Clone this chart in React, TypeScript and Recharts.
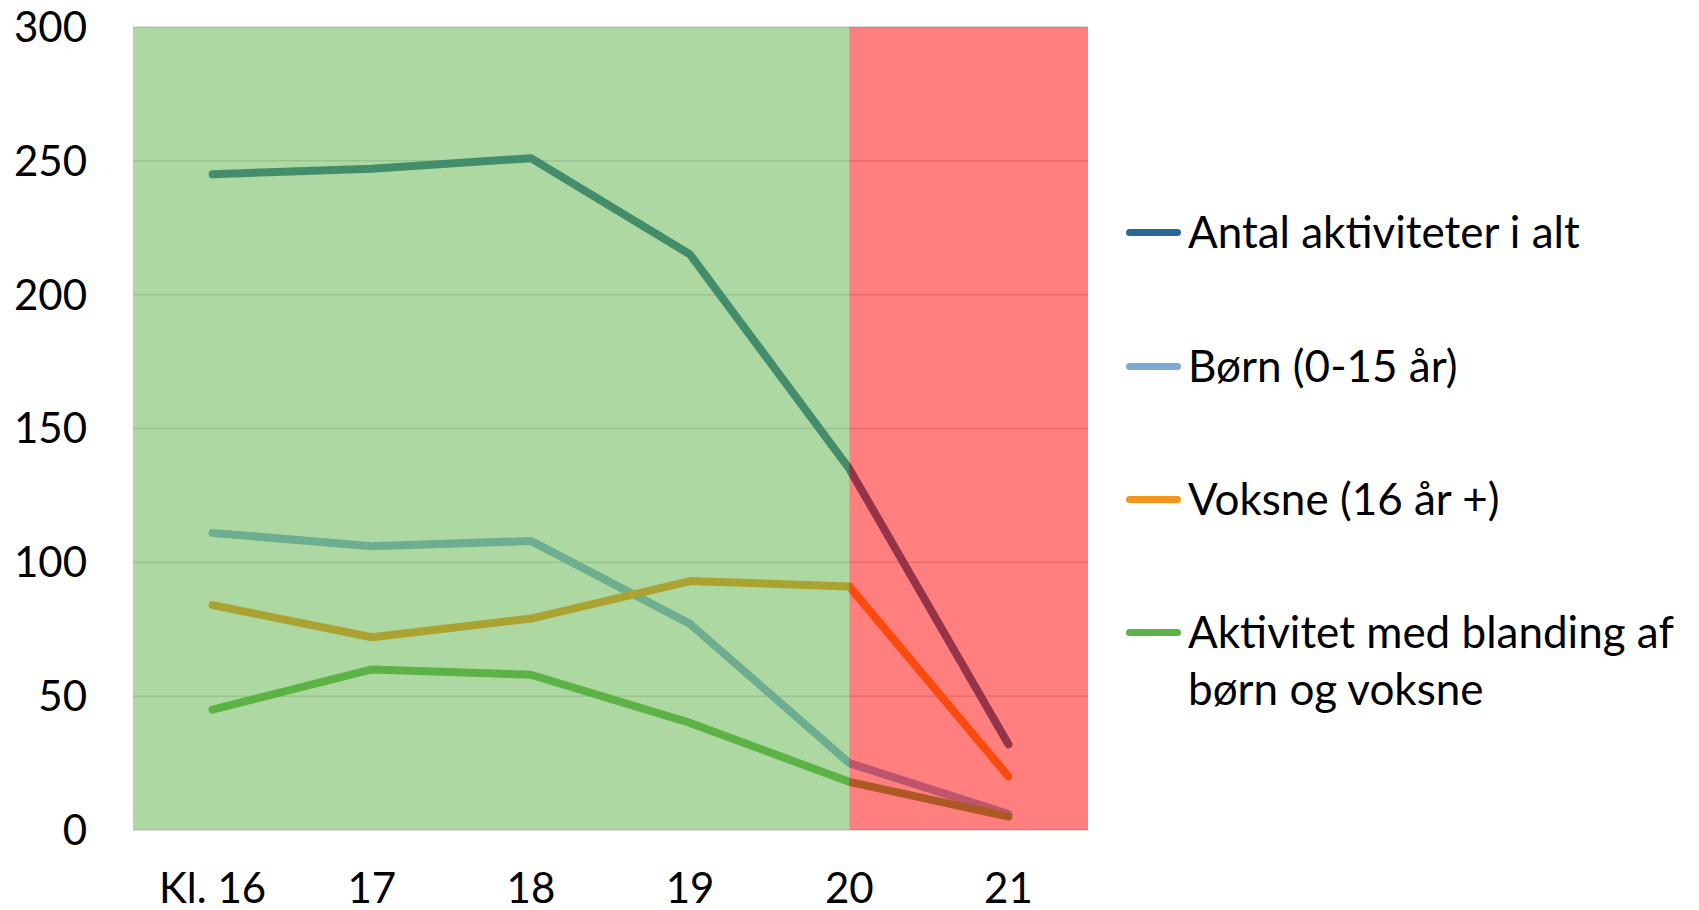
import React from 'react';
import { LineChart, Line, XAxis, YAxis, CartesianGrid, ReferenceArea } from 'recharts';

const categories = ['Kl. 16', '17', '18', '19', '20', '21'];
const total = [245, 247, 251, 215, 135, 32];
const children = [111, 106, 108, 77, 25, 6];
const adults = [84, 72, 79, 93, 91, 20];
const mixed = [45, 60, 58, 40, 18, 5];
const yTicks = [0, 50, 100, 150, 200, 250, 300];

const series = [
  { key: 'total', name: 'Antal aktiviteter i alt', color: '#2A6893' },
  { key: 'children', name: 'Børn (0-15 år)', color: '#7BAAD9' },
  { key: 'adults', name: 'Voksne (16 år +)', color: '#F7941D' },
  { key: 'mixed', name: 'Aktivitet med blanding af børn og voksne', color: '#5DB247' },
];

const data = categories.map((c, i) => ({
  x: i,
  label: c,
  total: total[i],
  children: children[i],
  adults: adults[i],
  mixed: mixed[i],
}));

const font = 'Lato, "Open Sans", sans-serif';
const legendTops = [203, 337, 470, 603];
const W = 1699;
const H = 910;
const margin = { top: 27, right: 611, bottom: 0, left: 0 };

// shared axes so the overlay chart lines up exactly with the base chart
const axes = (visible: boolean) => [
  <XAxis
    key="x"
    dataKey="x"
    type="number"
    domain={[-0.5, 5.5]}
    ticks={[0, 1, 2, 3, 4, 5]}
    tickFormatter={(v: number) => categories[v]}
    axisLine={false}
    tickLine={false}
    tickSize={0}
    tickMargin={43}
    height={80}
    tick={visible ? { fontSize: 42, fill: '#000', fontFamily: font } : false}
  />,
  <YAxis
    key="y"
    domain={[0, 300]}
    ticks={yTicks}
    axisLine={false}
    tickLine={false}
    tickSize={0}
    tickMargin={46}
    width={133}
    tick={visible ? { fontSize: 42, fill: '#000', fontFamily: font } : false}
  />,
];

export default function App() {
  return (
    <div style={{ position: 'absolute', left: 0, top: 0, width: W, height: H, background: '#fff', fontFamily: font }}>
      <LineChart width={W} height={H} data={data} margin={margin}>
        <CartesianGrid horizontal vertical={false} stroke="#D6D6D6" strokeWidth={1.5} />
        {axes(true)}
        {series.map(s => (
          <Line
            key={s.key}
            dataKey={s.key}
            stroke={s.color}
            strokeWidth={8}
            strokeLinecap="round"
            strokeLinejoin="round"
            dot={false}
            activeDot={false}
            isAnimationActive={false}
          />
        ))}
      </LineChart>
      {/* translucent time bands drawn on top of the lines */}
      <div style={{ position: 'absolute', left: 0, top: 0, pointerEvents: 'none' }}>
        <LineChart width={W} height={H} data={data} margin={margin}>
          {axes(false)}
          <Line dataKey="total" stroke="none" dot={false} activeDot={false} isAnimationActive={false} />
          <ReferenceArea x1={-0.5} x2={4} y1={0} y2={300} fill="#5DB145" fillOpacity={0.5} stroke="none" />
          <ReferenceArea x1={4} x2={5.5} y1={0} y2={300} fill="#FF0000" fillOpacity={0.5} stroke="none" />
        </LineChart>
      </div>
      {series.map((s, i) => (
        <div
          key={s.key}
          style={{ position: 'absolute', left: 1126, top: legendTops[i], width: 570, display: 'flex', alignItems: 'flex-start' }}
        >
          <div style={{ width: 55, height: 7, borderRadius: 4, background: s.color, marginTop: 26, flexShrink: 0 }} />
          <div style={{ marginLeft: 7, fontSize: 44, lineHeight: '57px', color: '#000' }}>{s.name}</div>
        </div>
      ))}
    </div>
  );
}
